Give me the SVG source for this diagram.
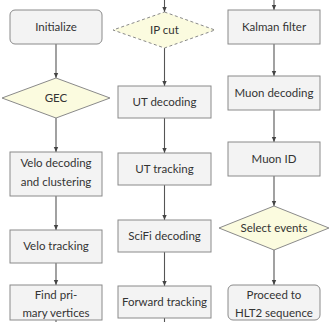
<svg xmlns="http://www.w3.org/2000/svg" width="329" height="322" viewBox="0 0 329 322">
<defs>
<marker id="ah" markerWidth="6" markerHeight="6" refX="5" refY="3" orient="auto" markerUnits="userSpaceOnUse">
<path d="M0,0.8 L5,3 L0,5.2 z" fill="#444"/>
</marker>
<style>
.box{fill:#f3f3f3;stroke:#8a8a8a;stroke-width:1}
.dia{fill:#fbfbdf;stroke:#8a8a8a;stroke-width:1}
.dash{stroke-dasharray:3,2.5}
.t{font-family:Lato,"Open Sans","Noto Sans",sans-serif;font-size:11.5px;fill:#333;text-anchor:middle}
.c{stroke:#555;stroke-width:1.1;fill:none;marker-end:url(#ah)}
.l{stroke:#555;stroke-width:1.1;fill:none}
</style>
</defs>
<rect width="329" height="322" fill="#ffffff"/>
<g id="connectors">
<path class="c" d="M56,44 V78"/>
<path class="c" d="M56,118 V152"/>
<path class="c" d="M56,196 V230"/>
<path class="c" d="M56,263 V285"/>
<path class="l" d="M56,320 V322"/>
<path class="c" d="M164.5,0 V12"/>
<path class="c" d="M164.5,48 V86"/>
<path class="c" d="M164.5,118 V153"/>
<path class="c" d="M164.5,185 V220"/>
<path class="c" d="M164.5,252 V286"/>
<path class="l" d="M164.5,318 V322"/>
<path class="c" d="M274,0 V10"/>
<path class="c" d="M274,44 V76"/>
<path class="c" d="M274,110 V142"/>
<path class="c" d="M274,176 V206"/>
<path class="c" d="M274,250 V285"/>
</g>
<g id="initialize"><rect class="box" x="10" y="10" width="92" height="34" rx="5"/><text class="t" x="56" y="31">Initialize</text></g>
<g id="gec"><polygon class="dia" points="56,78 110,98 56,118 2,98"/><text class="t" x="56" y="102">GEC</text></g>
<g id="velo-decoding"><rect class="box" x="10" y="152" width="92" height="44"/><text class="t" x="56" y="167">Velo decoding</text><text class="t" x="56" y="186">and clustering</text></g>
<g id="velo-tracking"><rect class="box" x="10" y="230" width="92" height="33"/><text class="t" x="56" y="250">Velo tracking</text></g>
<g id="find-pv"><rect class="box" x="10" y="285" width="92" height="35"/><text class="t" x="56" y="299">Find pri-</text><text class="t" x="56" y="317">mary vertices</text></g>
<g id="ip-cut"><polygon class="dia dash" points="164.5,12 215,30 164.5,48 113,30"/><text class="t" x="164.5" y="34">IP cut</text></g>
<g id="ut-decoding"><rect class="box" x="118" y="86" width="93" height="32"/><text class="t" x="164.5" y="106">UT decoding</text></g>
<g id="ut-tracking"><rect class="box" x="118" y="153" width="93" height="32"/><text class="t" x="164.5" y="173">UT tracking</text></g>
<g id="scifi-decoding"><rect class="box" x="118" y="220" width="93" height="32"/><text class="t" x="164.5" y="240">SciFi decoding</text></g>
<g id="forward-tracking"><rect class="box" x="118" y="286" width="93" height="32"/><text class="t" x="164.5" y="306">Forward tracking</text></g>
<g id="kalman"><rect class="box" x="228" y="10" width="92" height="34"/><text class="t" x="274" y="31">Kalman filter</text></g>
<g id="muon-decoding"><rect class="box" x="228" y="76" width="92" height="34"/><text class="t" x="274" y="97">Muon decoding</text></g>
<g id="muon-id"><rect class="box" x="228" y="142" width="92" height="34"/><text class="t" x="274" y="163">Muon ID</text></g>
<g id="select-events"><polygon class="dia" points="274,206 329,228 274,250 219,228"/><text class="t" x="274" y="232">Select events</text></g>
<g id="proceed"><rect class="box" x="228" y="285" width="92" height="35" rx="5"/><text class="t" x="274" y="299">Proceed to</text><text class="t" x="274" y="317">HLT2 sequence</text></g>
</svg>
